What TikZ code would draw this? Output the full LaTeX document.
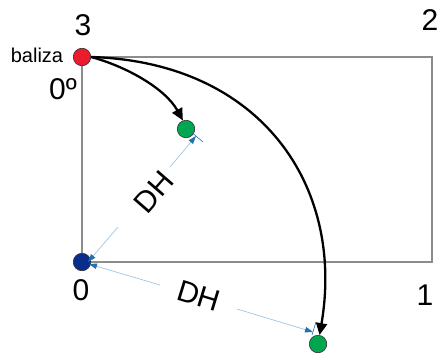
\documentclass[tikz,border=0pt]{standalone}
\usepackage{fontspec}
\setmainfont{Liberation Sans}
\usetikzlibrary{arrows.meta}
\definecolor{redc}{HTML}{EC1C2E}
\definecolor{greenc}{HTML}{00A650}
\definecolor{bluec}{HTML}{0A2D8C}
\definecolor{dimline}{HTML}{9CC6E6}
\definecolor{dimarrow}{HTML}{2470B2}
\definecolor{framec}{HTML}{8C8C8C}
\begin{document}
\begin{tikzpicture}[x=1pt,y=-1pt,
  dot/.style={circle,draw=black!80,line width=0.6pt,minimum size=17.5pt,inner sep=0pt},
  lbl/.style={font=\fontsize{30}{36}\selectfont,inner sep=0pt},
  dimln/.style={draw=dimline,line width=0.7pt},
  dimtipend/.style={-{Triangle[length=8pt,width=5.5pt,color=dimarrow]}},
  dimtipstart/.style={{Triangle[length=8pt,width=5.5pt,color=dimarrow]}-},
  tick/.style={draw=dimarrow,line width=0.6pt},
  bigarrow/.style={line width=2.3pt,-{Triangle[length=12pt,width=11pt]}},
  ]
\useasboundingbox (0,0) rectangle (441,353);
% frame
\draw[framec,line width=1.3pt] (82,57) rectangle (432,262);
% dots
\node[dot,fill=redc]   (r)  at (82,57)  {};
\node[dot,fill=bluec]  (b)  at (82,262) {};
\node[dot,fill=greenc] (g1) at (186,129) {};
\node[dot,fill=greenc] (g2) at (318,344) {};
% labels
\node[lbl] (l3) at (83,25) {3};
\node[lbl] (l2) at (430,20) {2};
\node[lbl] (l0) at (81,290) {0};
\node[lbl] (l1) at (425,295) {1};
\node[lbl] (ldeg) at (63,89) {0º};
\node[font=\fontsize{20}{24}\selectfont,inner sep=0pt] (lbal) at (37,55) {baliza};
% dimension lines
\coordinate (d1a) at (88,262);
\coordinate (d1m) at (118,227);
\coordinate (d1n) at (170,167);
\coordinate (d1b) at (196,136);
\coordinate (t1a) at (190,131);
\coordinate (t1b) at (203,142);
\draw[tick] (t1a) -- (t1b);
\draw[dimln,dimtipstart] (d1a) -- (d1m);
\draw[dimln,dimtipend] (d1n) -- (d1b);
\node[lbl,rotate=49] (dh1) at (154,192) {DH};
\coordinate (d2a) at (89,264);
\coordinate (d2m) at (160,285);
\coordinate (d2n) at (237,309);
\coordinate (d2b) at (313,332);
\coordinate (t2a) at (312,335);
\coordinate (t2b) at (316,322);
\draw[tick] (t2a) -- (t2b);
\draw[dimln,dimtipstart] (d2a) -- (d2m);
\draw[dimln,dimtipend] (d2n) -- (d2b);
\node[lbl,rotate=-17] (dh2) at (199,296) {DH};
% black arrows
\draw[bigarrow] (r.east) .. controls (125,66) and (165,88) .. (g1.110);
\draw[bigarrow] (r.east) .. controls (260,62) and (345,185) .. (g2.80);
\end{tikzpicture}
\end{document}
